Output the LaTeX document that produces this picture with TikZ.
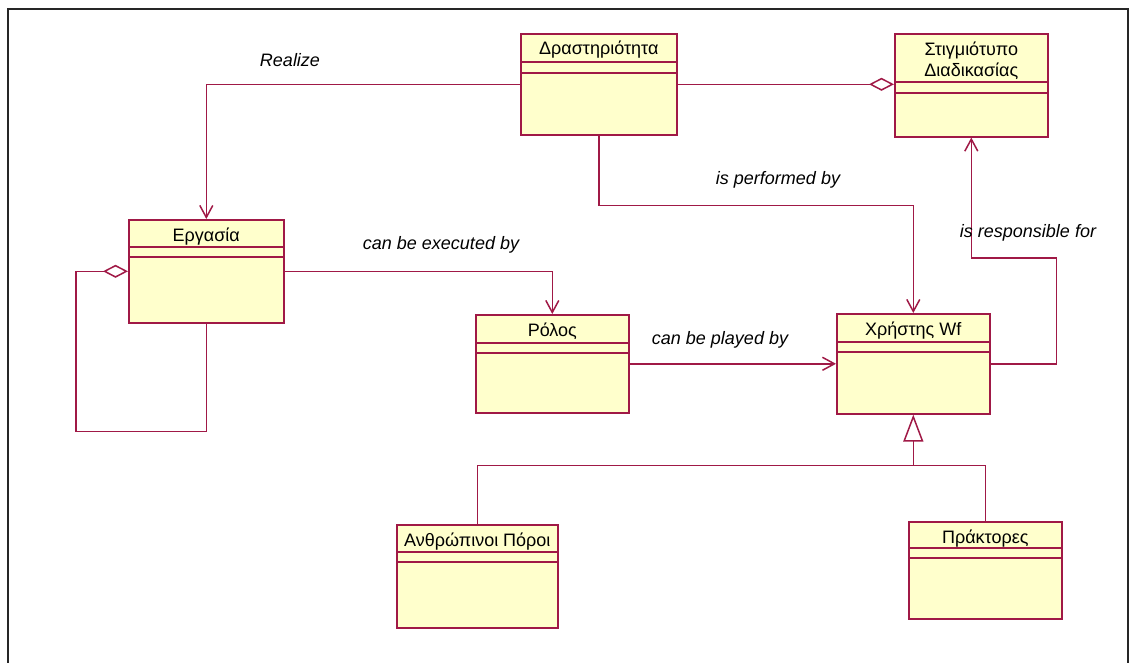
\documentclass[tikz,border=0pt]{standalone}
\usepackage{fontspec}
\setmainfont{Liberation Sans}
\usetikzlibrary{arrows.meta}

\definecolor{umlline}{RGB}{160,25,70}
\definecolor{umlfill}{RGB}{255,255,204}

\begin{document}
\begin{tikzpicture}[x=1pt,y=-1pt,
font=\fontsize{18}{21}\selectfont
]
\tikzstyle{cls} = [draw=umlline, fill=umlfill, line width=1.6pt, shape=rectangle, inner sep=0pt, anchor=north west]
\tikzstyle{cname} = [anchor=base, inner sep=0pt]
\tikzstyle{lbl} = [font=\fontsize{18}{21}\selectfont\itshape]
\tikzstyle{conn} = [draw=umlline, line width=1.5pt]
\tikzstyle{assoc} = [conn, -{Straight Barb[length=12pt,width=13pt]}]
\tikzstyle{aggr} = [conn, {Diamond[open,length=25pt,width=13pt]}-]
\tikzstyle{inh} = [conn, -{Triangle[open,length=27pt,width=20pt]}]

\useasboundingbox (0,0) rectangle (1131,663);
\clip (0,0) rectangle (1131,663);
\fill[white] (0,0) rectangle (1131,663);
\draw[line width=1.8pt, black!85] (8,9) rectangle (1128,700);

% classes
\node[cls, minimum width=156pt, minimum height=101pt] (act) at (520,33) {};
\node[cls, minimum width=153pt, minimum height=103pt] (inst) at (894,33) {};
\node[cls, minimum width=155pt, minimum height=103pt] (task) at (128,219) {};
\node[cls, minimum width=153pt, minimum height=98pt] (role) at (475,314) {};
\node[cls, minimum width=153pt, minimum height=100pt] (user) at (836,313) {};
\node[cls, minimum width=161pt, minimum height=103pt] (human) at (396,524) {};
\node[cls, minimum width=153pt, minimum height=97pt] (agent) at (908,521) {};

\foreach \n/\a/\b in {act/29/40, inst/49/60, task/28/38, role/29/39, user/29/39, human/28/38, agent/27/37}{
    \draw[umlline, line width=1.5pt] ([yshift=-\a pt]\n.north west) -- ([yshift=-\a pt]\n.north east);
    \draw[umlline, line width=1.5pt] ([yshift=-\b pt]\n.north west) -- ([yshift=-\b pt]\n.north east);
}

\node[cname] (act-name) at ([yshift=-22pt]act.north) {Δραστηριότητα};
\node[inner sep=0pt, align=center] (inst-name) at ([yshift=-28pt]inst.north) {Στιγμιότυπο\\Διαδικασίας};
\node[cname] (task-name) at ([yshift=-22pt]task.north) {Εργασία};
\node[cname] (role-name) at ([yshift=-22pt]role.north) {Ρόλος};
\node[cname] (user-name) at ([yshift=-22pt]user.north) {Χρήστης Wf};
\node[cname] (human-name) at ([yshift=-22pt]human.north) {Ανθρώπινοι Πόροι};
\node[cname] (agent-name) at ([yshift=-22pt]agent.north) {Πράκτορες};

% associations
\draw[assoc] (act.west) -| (task.north);
\draw[aggr] (act.east -| inst.west) -- (act.east);
\draw[assoc] (act.south) -- ++(0,70) -| (user.north);
\draw[aggr] (task.west) -- ++(-52,0) |- ([yshift=-108pt]task.south) -- (task.south);
\draw[assoc] (task.east) -| (role.north);
\draw[assoc] (role.east) -- (user.west);
\draw[assoc] (user.east) -- ++(66,0) -- ++(0,-106) -| (inst.south);

% generalization
\coordinate (fork) at ([yshift=-51pt]user.south);
\draw[inh] (fork) -- (user.south);
\draw[conn] (human.north) |- (fork) -| (agent.north);

% labels
\node[lbl] (l-realize) at (290,60) {Realize};
\node[lbl] (l-perf) at (778,180) {is performed by};
\node[lbl] (l-exec) at (441,245) {can be executed by};
\node[lbl] (l-play) at (720,340) {can be played by};
\node[lbl] (l-resp) at (1028,233) {is responsible for};
\end{tikzpicture}
\end{document}
